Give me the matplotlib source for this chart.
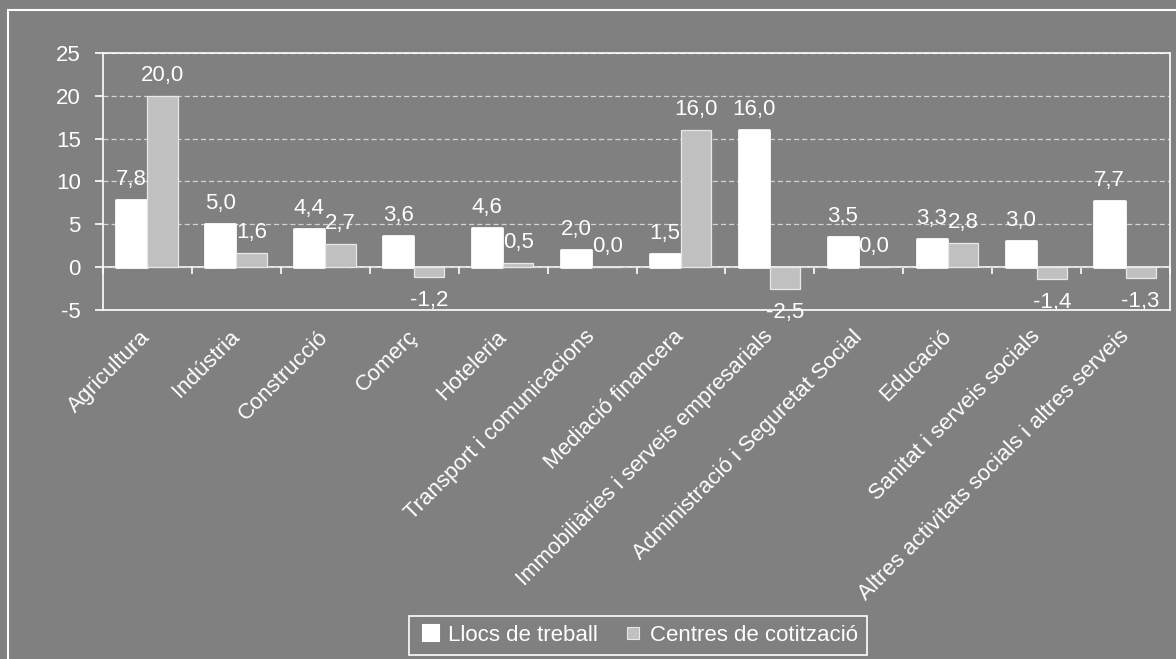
import matplotlib
matplotlib.use("Agg")
import matplotlib.pyplot as plt
from matplotlib.lines import Line2D
from matplotlib.patches import Rectangle
import numpy as np

categories = ["Agricultura", "Indústria", "Construcció", "Comerç", "Hoteleria",
              "Transport i comunicacions", "Mediació financera",
              "Immobiliàries i serveis empresarials",
              "Administració i Seguretat Social", "Educació",
              "Sanitat i serveis socials",
              "Altres activitats socials i altres serveis"]
llocs = [7.8, 5.0, 4.4, 3.6, 4.6, 2.0, 1.5, 16.0, 3.5, 3.3, 3.0, 7.7]
centres = [20.0, 1.6, 2.7, -1.2, 0.5, 0.0, 16.0, -2.5, 0.0, 2.8, -1.4, -1.3]
series_names = ["Llocs de treball", "Centres de cotització"]
yticks = [-5, 0, 5, 10, 15, 20, 25]

BG = "#808080"
GREY = "#c0c0c0"
FS = 16
plt.rcParams["font.family"] = ["Liberation Sans", "DejaVu Sans"]

fig = plt.figure(figsize=(11.76, 6.59), dpi=100, facecolor=BG)
ax = fig.add_axes([103/1176, 1-310/659, (1170-103)/1176, (310-53)/659])
ax.set_facecolor(BG)

x = np.arange(len(categories))
w = 0.34
ax.bar(x - w/2 - 0.01, llocs, w, color="white", edgecolor="white", linewidth=2.0,
       joinstyle="round", zorder=3)
ax.bar(x + w/2, centres, w, color=GREY, edgecolor="#e8e8e8", linewidth=0.9,
       zorder=3)

def fmt(v):
    return f"{v:.1f}".replace(".", ",")

for xs, vals in ((x - w/2 - 0.01, llocs), (x + w/2, centres)):
    for xi, v in zip(xs, vals):
        if v >= 0:
            ax.annotate(fmt(v), xy=(xi, v), xytext=(0, 15), textcoords="offset pixels",
                        ha="center", va="baseline", color="white", fontsize=FS, zorder=5)
        else:
            ax.annotate(fmt(v), xy=(xi, v), xytext=(0, -13), textcoords="offset pixels",
                        ha="center", va="top", color="white", fontsize=FS, zorder=5,
                        annotation_clip=False)

ax.set_xlim(-0.5, len(categories) - 0.5)
ax.set_ylim(yticks[0], yticks[-1])
ax.set_yticks(yticks)
ax.set_yticklabels([str(t) for t in yticks])
ax.tick_params(axis="y", colors="white", labelsize=FS, length=6, width=1.2, pad=10)
ax.set_xticks(x)
ax.set_xticklabels(categories, rotation=45, ha="right", va="center",
                   rotation_mode="anchor", fontsize=FS, color="white")
ax.tick_params(axis="x", length=0, pad=17)

ax.set_axisbelow(True)
ax.yaxis.grid(True, color="#d4d4d4", linestyle=(0, (4, 2.5)), linewidth=0.9)
for s in ax.spines.values():
    s.set_color("white")
    s.set_linewidth(1.2)

# zero line with category boundary ticks
frac = (0 - yticks[0]) / (yticks[-1] - yticks[0])
sec = ax.secondary_xaxis(frac)
sec.set_xticks(np.arange(-0.5, len(categories) + 0.5, 1.0))
sec.tick_params(axis="x", colors="white", length=5, width=1.2, labelbottom=False,
                labeltop=False)
for s in sec.spines.values():
    s.set_color("white")
    s.set_linewidth(1.2)

handles = [Line2D([], [], linestyle="none", marker="s", markersize=11,
                  markerfacecolor="white", markeredgecolor="white", markeredgewidth=1.5),
           Line2D([], [], linestyle="none", marker="s", markersize=8,
                  markerfacecolor=GREY, markeredgecolor="#e8e8e8", markeredgewidth=0.8)]
leg = fig.legend(handles, series_names, loc="center", bbox_to_anchor=(638/1176, 1-635.5/659),
                 ncol=2, frameon=True, fancybox=False, facecolor=BG, edgecolor="white",
                 framealpha=1, fontsize=FS, handlelength=1.2, handletextpad=0.15,
                 columnspacing=1.0, borderpad=0.4, labelcolor="white")
leg.get_frame().set_linewidth(1.2)

border = Rectangle((8/1176, -0.05), 1.1, (1-10/659) + 0.05, transform=fig.transFigure,
                   fill=False, edgecolor="white", linewidth=1.5)
fig.add_artist(border)

fig.savefig("out.png", dpi=100, facecolor=BG)
